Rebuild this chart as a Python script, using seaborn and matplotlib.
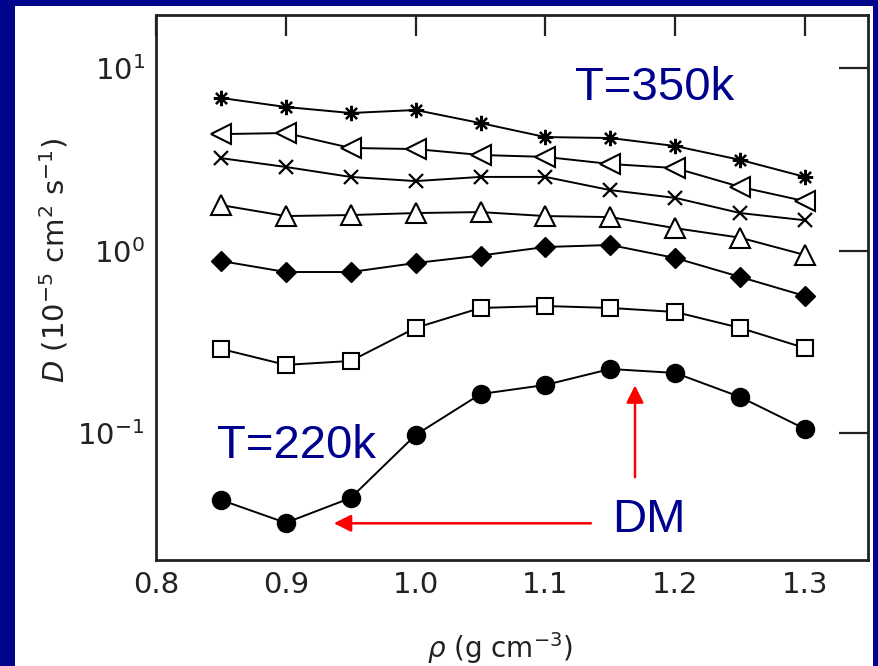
import numpy as np
import pandas as pd
import matplotlib
matplotlib.use("Agg")
import matplotlib.pyplot as plt
import matplotlib.ticker as mticker
from matplotlib.patches import Rectangle
import seaborn as sns

# ---- data ----
rho = [0.85, 0.90, 0.95, 1.00, 1.05, 1.10, 1.15, 1.20, 1.25, 1.30]
D_star = [6.88, 6.14, 5.69, 5.91, 5.01, 4.20, 4.15, 3.75, 3.15, 2.54]
D_tleft = [4.36, 4.42, 3.66, 3.61, 3.35, 3.27, 2.99, 2.84, 2.24, 1.87]
D_cross = [3.22, 2.88, 2.54, 2.41, 2.54, 2.54, 2.15, 1.95, 1.61, 1.47]
D_tup = [1.78, 1.55, 1.57, 1.61, 1.63, 1.55, 1.53, 1.33, 1.18, 0.948]
D_diam = [0.879, 0.765, 0.765, 0.857, 0.942, 1.049, 1.076, 0.913, 0.719, 0.565]
D_square = [0.290, 0.237, 0.249, 0.378, 0.486, 0.498, 0.486, 0.462, 0.378, 0.293]
D_circle = [0.0431, 0.0323, 0.0442, 0.0979, 0.164, 0.184, 0.225, 0.214, 0.158, 0.1056]

x_ticks = [0.8, 0.9, 1.0, 1.1, 1.2, 1.3]
y_ticks = [0.1, 1.0, 10.0]

series = [
    ("star", D_star, dict(marker=(8, 2, 0), markersize=11, markerfacecolor="black",
                          markeredgecolor="black", markeredgewidth=1.6)),
    ("tleft", D_tleft, dict(marker="<", markersize=14, markerfacecolor="white",
                            markeredgecolor="black", markeredgewidth=1.5)),
    ("cross", D_cross, dict(marker="x", markersize=10, markerfacecolor="black",
                            markeredgecolor="black", markeredgewidth=1.6)),
    ("tup", D_tup, dict(marker="^", markersize=14, markerfacecolor="white",
                        markeredgecolor="black", markeredgewidth=1.5)),
    ("diam", D_diam, dict(marker="D", markersize=10, markerfacecolor="black",
                          markeredgecolor="black", markeredgewidth=1)),
    ("square", D_square, dict(marker="s", markersize=11, markerfacecolor="white",
                              markeredgecolor="black", markeredgewidth=1.5)),
    ("circle", D_circle, dict(marker="o", markersize=13, markerfacecolor="black",
                              markeredgecolor="black", markeredgewidth=1)),
]

sns.set_theme(style="white")
plt.rcParams["font.family"] = ["DejaVu Sans"]
plt.rcParams["mathtext.fontset"] = "dejavusans"

fig = plt.figure(figsize=(8.79, 6.66), dpi=100)
fig.patch.set_facecolor("#00058c")
fig.add_artist(Rectangle((15 / 879, 0), (873 - 15) / 879, 660 / 666,
                         transform=fig.transFigure, facecolor="white",
                         edgecolor="none", zorder=0))

ax = fig.add_axes([156 / 879, 1 - 560 / 666, (868 - 156) / 879, (560 - 15) / 666])
ax.set_facecolor("white")

for name, vals, style in series:
    df = pd.DataFrame({"rho": rho, "D": vals})
    sns.lineplot(data=df, x="rho", y="D", ax=ax, color="black", linewidth=1.4,
                 legend=False, **style)

ax.set_yscale("log")
ax.set_xlim(0.8, 1.3485)
ax.set_ylim(0.0202, 19.6)
ax.set_xticks(x_ticks)
ax.set_xticklabels([f"{t:.1f}" for t in x_ticks])
ax.yaxis.set_major_locator(mticker.FixedLocator(y_ticks))
ax.yaxis.set_major_formatter(mticker.LogFormatterSciNotation())
ax.yaxis.set_minor_locator(mticker.NullLocator())
ax.xaxis.set_minor_locator(mticker.NullLocator())

ax.tick_params(axis="both", which="major", direction="in", top=True, right=True,
               labelsize=21, labelcolor="#222222", color="#222222", width=1.6, pad=8)
ax.tick_params(axis="x", length=15)
ax.tick_params(axis="y", length=21)
for sp in ax.spines.values():
    sp.set_color("#222222")
    sp.set_linewidth(2)
    sp.set_visible(True)

ax.set_xlabel(r"$\rho$ (g cm$^{-3}$)", fontsize=20, color="#222222")
ax.set_ylabel(r"$D$ (10$^{-5}$ cm$^{2}$ s$^{-1}$)", fontsize=21, color="#222222")
ax.xaxis.set_label_coords(0.483, -0.128)
ax.yaxis.set_label_coords(-0.12, 0.55)

navy = "#00008f"
tfont = dict(fontsize=34, color=navy, family=["Liberation Sans", "DejaVu Sans"])
ax.text(0.588, 0.844, "T=350k", transform=ax.transAxes, ha="left", va="baseline", **tfont)
ax.text(0.0858, 0.187, "T=220k", transform=ax.transAxes, ha="left", va="baseline", **tfont)
ax.text(0.640, 0.0514, "DM", transform=ax.transAxes, ha="left", va="baseline", **tfont)

arrow = dict(arrowstyle="-|>", color="red", lw=1.8, mutation_scale=26, shrinkA=0, shrinkB=0)
ax.annotate("", xy=(0.937, 0.0321), xytext=(1.135, 0.0321), arrowprops=arrow)
ax.annotate("", xy=(1.169, 0.183), xytext=(1.169, 0.0574), arrowprops=arrow)

fig.savefig("out.png", dpi=100, facecolor=fig.get_facecolor())
